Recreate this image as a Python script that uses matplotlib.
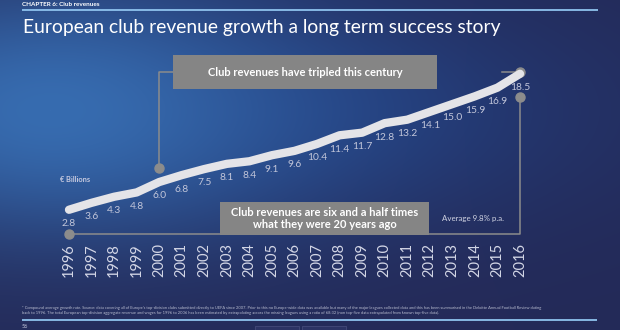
import numpy as np
import matplotlib
matplotlib.use("Agg")
import matplotlib.pyplot as plt
from matplotlib.patches import Rectangle

# ---- data ----
years = list(range(1996, 2017))
revenue = [2.8, 3.6, 4.3, 4.8, 6.0, 6.8, 7.5, 8.1, 8.4, 9.1, 9.6,
           10.4, 11.4, 11.7, 12.8, 13.2, 14.1, 15.0, 15.9, 16.9, 18.5]
value_labels = [f"{v:.1f}" for v in revenue]
year_labels = [str(y) for y in years]

title = "European club revenue growth a long term success story"
chapter = "CHAPTER 6: Club revenues"
box_top_text = "Club revenues have tripled this century"
box_bottom_text = "Club revenues are six and a half times\nwhat they were 20 years ago"
avg_text = "Average 9.8% p.a."
unit_text = "\u20ac Billions"
footnote = ("* Compound average growth rate. Source: data covering all of Europe's top-division clubs submitted directly to UEFA since 2007. "
            "Prior to this no Europe-wide data was available but many of the major leagues collected data and this has been summarised in the Deloitte Annual Football Review dating\n"
            "back to 1996. The total European top-division aggregate revenue and wages for 1996 to 2006 has been estimated by extrapolating across the missing leagues "
            "using a ratio of 68:32 (non top-five data extrapolated from known top-five data).")
page_no = "56"

FONT = ["Lato", "DejaVu Sans"]
plt.rcParams['font.family'] = FONT

W, H = 620, 330
fig = plt.figure(figsize=(W / 100, H / 100), dpi=100)

# ---- background gradient ----
bg = fig.add_axes([0, 0, 1, 1], zorder=0)
yy, xx = np.mgrid[0:H, 0:W].astype(float)
base = np.array([0x24, 0x2a, 0x58]) / 255
mid = np.array([0x22, 0x3e, 0x7e]) / 255
light = np.array([0x37, 0x6c, 0xb0]) / 255
w_mid = np.exp(-(((xx - 250) / 330) ** 2 + ((yy - 110) / 115) ** 2))
w_light = np.exp(-(((xx - 50) / 250) ** 2 + ((yy - 110) / 125) ** 2))
img = base[None, None, :] * np.ones((H, W, 1))
img = img * (1 - w_mid[..., None]) + mid * w_mid[..., None]
img = img * (1 - w_light[..., None]) + light * w_light[..., None]
bg.imshow(np.clip(img, 0, 1), extent=[0, W, H, 0], aspect='auto', interpolation='bilinear')
bg.set_xlim(0, W)
bg.set_ylim(H, 0)
bg.axis('off')

# ---- main data axes ----
px_left, px_right = 69, 520
px_bottom, px_top = 234, 60.8
ax = fig.add_axes([px_left / W, 1 - px_bottom / H, (px_right - px_left) / W, (px_bottom - px_top) / H], zorder=2)
ax.set_facecolor('none')
ax.set_xlim(years[0], years[-1])
ax.set_ylim(0, 20)
for s in ax.spines.values():
    s.set_visible(False)
ax.set_yticks([])
ax.set_xticks(years)
ax.set_xticklabels(year_labels, rotation=90, fontsize=10.5, color='#d3d6e6')
ax.tick_params(axis='x', length=0, pad=6.5)

grey = '#8c8c8c'
# lower bracket: 1996 baseline to 2016 and up
low_dot_y = 15.8
ax.plot([years[0], years[-1], years[-1]], [0, 0, low_dot_y], color=grey, lw=1.1, clip_on=False, zorder=1)
ax.plot([years[0], years[-1]], [0, low_dot_y], 'o', color=grey, ms=6.5, clip_on=False, zorder=2)
# upper bracket
up_dot_y = 7.6
up_line_y = 18.65
ax.plot([2000, 2000, 2000.62], [up_dot_y, up_line_y, up_line_y], color=grey, lw=1.1, clip_on=False, zorder=1)
ax.plot([2015.2, years[-1]], [up_line_y, up_line_y], color=grey, lw=1.1, clip_on=False, zorder=1)
ax.plot([2000], [up_dot_y], 'o', color=grey, ms=6.5, clip_on=False, zorder=2)
ax.plot([years[-1]], [up_line_y], 'o', color=grey, ms=6.5, clip_on=False, zorder=2)

ax.plot(years, revenue, color='#e4e4e8', lw=6, solid_capstyle='round', solid_joinstyle='round',
        clip_on=False, zorder=3)
for x, v, t in zip(years, revenue, value_labels):
    ax.annotate(t, (x, v), xytext=(0, -10), textcoords='offset points', ha='center', va='center',
                fontsize=7.4, color='#c2c6da', zorder=4)

# ---- overlay (pixel coordinates) ----
ov = fig.add_axes([0, 0, 1, 1], zorder=3)
ov.set_facecolor('none')
ov.set_xlim(0, W)
ov.set_ylim(H, 0)
ov.axis('off')

ov.text(22, 4, chapter, fontsize=4.6, fontweight='bold', color='white', va='center', ha='left')
ov.plot([22, 598], [10, 10], color='#8fc3ee', lw=1.3, solid_capstyle='butt')
ov.text(23, 28, title, fontsize=13.9, color='white', va='center', ha='left')

ov.add_patch(Rectangle((173, 55), 264, 34, facecolor='#858585', edgecolor='none'))
ov.text(305.5, 73, box_top_text, fontsize=8.0, fontweight='bold', color='white', ha='center', va='center')

ov.add_patch(Rectangle((220, 202), 209, 33, facecolor='#858585', edgecolor='none'))
ov.text(324.5, 218.5, box_bottom_text, fontsize=8.0, fontweight='bold', color='white', ha='center', va='center',
        linespacing=1.2)

ov.text(473, 219, avg_text, fontsize=5.7, color='#d0d3e2', ha='center', va='center')
ov.text(75, 179, unit_text, fontsize=5.3, fontweight='bold', color='#c8cbe0', ha='center', va='center')

ov.text(22, 310.5, footnote, fontsize=2.93, color='#b8bcd0', ha='left', va='center', linespacing=1.5)
ov.plot([22, 597], [320, 320], color='#8fc3ee', lw=1.3, solid_capstyle='butt')
ov.text(22, 326.5, page_no, fontsize=4, color='#c8cbe0', ha='left', va='center')
ov.add_patch(Rectangle((255, 326), 44, 6, facecolor='#2c3364', edgecolor='#4a5080', lw=0.5))
ov.add_patch(Rectangle((302, 326), 44, 6, facecolor='#2c3364', edgecolor='#4a5080', lw=0.5))

fig.savefig('out.png', dpi=100)
